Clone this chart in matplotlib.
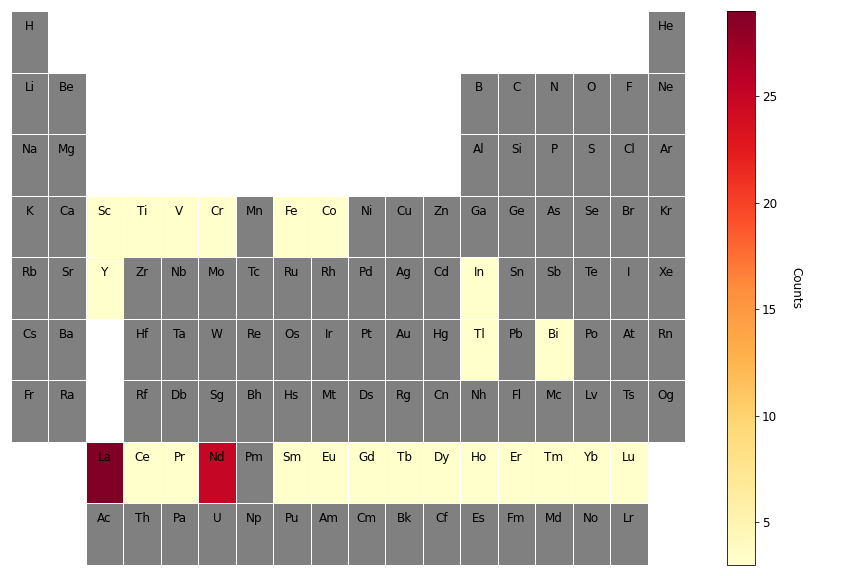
import numpy as np
import matplotlib
matplotlib.use("Agg")
import matplotlib.pyplot as plt
from matplotlib.colors import ListedColormap

# Periodic table layout (rows of symbols, None = empty position)
row0 = ["H"] + [None] * 16 + ["He"]
row1 = ["Li", "Be"] + [None] * 10 + ["B", "C", "N", "O", "F", "Ne"]
row2 = ["Na", "Mg"] + [None] * 10 + ["Al", "Si", "P", "S", "Cl", "Ar"]
row3 = ["K", "Ca", "Sc", "Ti", "V", "Cr", "Mn", "Fe", "Co", "Ni", "Cu", "Zn",
        "Ga", "Ge", "As", "Se", "Br", "Kr"]
row4 = ["Rb", "Sr", "Y", "Zr", "Nb", "Mo", "Tc", "Ru", "Rh", "Pd", "Ag", "Cd",
        "In", "Sn", "Sb", "Te", "I", "Xe"]
row5 = ["Cs", "Ba", None, "Hf", "Ta", "W", "Re", "Os", "Ir", "Pt", "Au", "Hg",
        "Tl", "Pb", "Bi", "Po", "At", "Rn"]
row6 = ["Fr", "Ra", None, "Rf", "Db", "Sg", "Bh", "Hs", "Mt", "Ds", "Rg", "Cn",
        "Nh", "Fl", "Mc", "Lv", "Ts", "Og"]
row7 = [None, None, "La", "Ce", "Pr", "Nd", "Pm", "Sm", "Eu", "Gd", "Tb", "Dy",
        "Ho", "Er", "Tm", "Yb", "Lu", None]
row8 = [None, None, "Ac", "Th", "Pa", "U", "Np", "Pu", "Am", "Cm", "Bk", "Cf",
        "Es", "Fm", "Md", "No", "Lr", None]
table_rows = [row0, row1, row2, row3, row4, row5, row6, row7, row8]

# Counts per element
count_elements = ["Sc", "Ti", "V", "Cr", "Fe", "Co", "Y", "In", "Tl", "Bi",
                  "La", "Ce", "Pr", "Nd", "Sm", "Eu", "Gd", "Tb", "Dy",
                  "Ho", "Er", "Tm", "Yb", "Lu"]
count_values = [3, 3, 3, 3, 3, 3, 3, 3, 3, 3,
                29, 3, 3, 25, 3, 3, 3, 3, 3,
                3, 3, 3, 3, 3]
counts = dict(zip(count_elements, count_values))

nrows, ncols = len(table_rows), len(table_rows[0])
present = np.zeros((nrows, ncols))
vals = np.full((nrows, ncols), np.nan)
for i, row in enumerate(table_rows):
    for j, sym in enumerate(row):
        if sym is not None:
            present[i, j] = 1
            if sym in counts:
                vals[i, j] = counts[sym]

fig = plt.figure(figsize=(12, 8), dpi=72)
ax = fig.add_axes([11 / 864, 11 / 576, 674 / 864, 554 / 576])
cax = fig.add_axes([727 / 864, 11 / 576, 28 / 864, 554 / 576])

gray = np.ma.masked_where(present == 0, present)
ax.pcolormesh(gray, cmap=ListedColormap(["grey"]), edgecolors="white",
              linewidth=1)
data = np.ma.masked_invalid(vals)
vmin, vmax = min(count_values), max(count_values)
hm = ax.pcolormesh(data, cmap="YlOrRd", vmin=vmin, vmax=vmax,
                   edgecolors="white", linewidth=1)

for i, row in enumerate(table_rows):
    for j, sym in enumerate(row):
        if sym is not None:
            ax.text(j + 0.5, i + 0.25, sym, ha="center", va="center",
                    fontsize=12, color="black")

ax.set_xlim(0, ncols)
ax.set_ylim(nrows, 0)
ax.axis("off")

cb = fig.colorbar(hm, cax=cax)
cb.set_ticks([5, 10, 15, 20, 25])
cb.ax.tick_params(labelsize=12)
cb.ax.set_ylabel("Counts", rotation=270, labelpad=25, fontsize=12)

fig.savefig("out.png", dpi=72)
